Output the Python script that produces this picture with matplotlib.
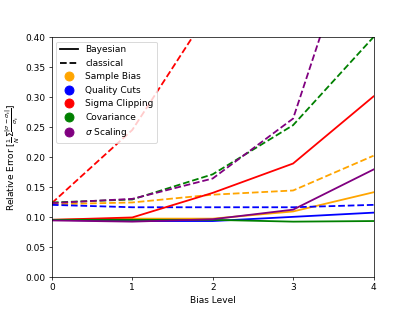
import numpy as np
import matplotlib.pyplot as plt
from matplotlib.lines import Line2D

bias_levels = [0, 1, 2, 3, 4]
methods = ["Sample Bias", "Quality Cuts", "Sigma Clipping", "Covariance", r"$\sigma$ Scaling"]
colors = ["orange", "blue", "red", "green", "purple"]

# relative error, bayesian fit
bayes_sample = [0.095, 0.097, 0.097, 0.109, 0.141]
bayes_quality = [0.095, 0.093, 0.093, 0.100, 0.107]
bayes_sigclip = [0.095, 0.099, 0.140, 0.189, 0.301]
bayes_cov = [0.095, 0.095, 0.095, 0.092, 0.093]
bayes_scaling = [0.094, 0.092, 0.096, 0.112, 0.179]

# relative error, classical fit
class_sample = [0.121, 0.124, 0.137, 0.144, 0.202]
class_quality = [0.120, 0.116, 0.116, 0.116, 0.120]
class_sigclip = [0.123, 0.245, 0.452, 0.66, 0.87]
class_cov = [0.124, 0.129, 0.171, 0.253, 0.400]
class_scaling = [0.123, 0.130, 0.164, 0.264, 0.67]

bayes = [bayes_sample, bayes_quality, bayes_sigclip, bayes_cov, bayes_scaling]
classical = [class_sample, class_quality, class_sigclip, class_cov, class_scaling]

fig, ax = plt.subplots(figsize=(6.4, 4.8), dpi=415 / 6.4)
for b, c, col in zip(bayes, classical, colors):
    ax.plot(bias_levels, b, color=col, linestyle="-", linewidth=2)
    ax.plot(bias_levels, c, color=col, linestyle="--", linewidth=2)

handles = [Line2D([0], [0], color="black", linestyle="-", linewidth=2),
           Line2D([0], [0], color="black", linestyle="--", linewidth=2)]
handles += [Line2D([0], [0], color=col, marker="o", linestyle="", markersize=10) for col in colors]
labels = ["Bayesian", "classical"] + methods
ax.legend(handles, labels, loc="upper left")

ax.set_xlim(0, 4)
ax.set_ylim(0, 0.4)
ax.set_xticks(bias_levels)
ax.set_xlabel("Bias Level")
ax.set_ylabel(r"Relative Error [$\frac{1}{N}\Sigma\frac{|\sigma-\sigma_t|}{\sigma_t}$]")
plt.savefig("out.png")
